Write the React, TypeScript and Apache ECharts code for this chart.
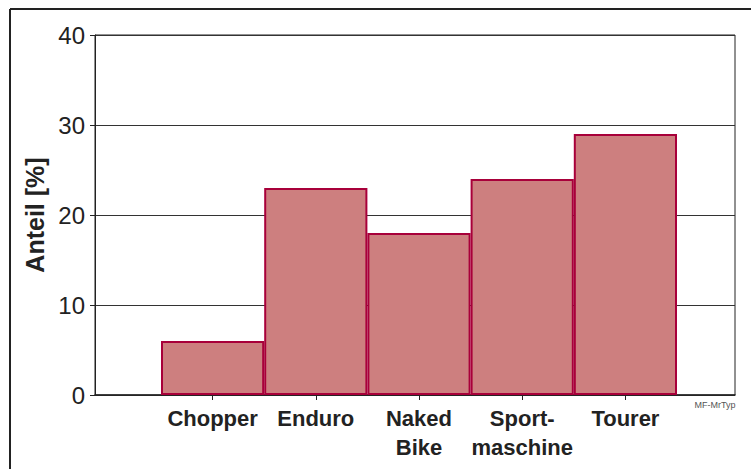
import React, { useEffect, useRef } from "react";
import * as echarts from "echarts";

const categories = ["Chopper", "Enduro", "Naked\nBike", "Sport-\nmaschine", "Tourer"];
const values = [6, 23, 18, 24, 29];
const yTicks = [0, 10, 20, 30, 40];

export default function App() {
  const ref = useRef<HTMLDivElement>(null);
  useEffect(() => {
    document.body.style.margin = "0";
    const chart = echarts.init(ref.current!, undefined, { renderer: "svg" });
    const font = "Liberation Sans, Arial, Helvetica, sans-serif";
    chart.setOption({
      animation: false,
      backgroundColor: "#ffffff",
      grid: [
        { left: 95, right: 16, top: 35, bottom: 74, show: true, borderColor: "#222", borderWidth: 1, backgroundColor: "transparent" },
        { left: 161, right: 74, top: 35, bottom: 74 },
      ],
      xAxis: [
        {
          gridIndex: 0,
          type: "category",
          data: [""],
          axisLine: { show: true, lineStyle: { color: "#222", width: 1.5 } },
          axisTick: { show: false },
          axisLabel: { show: false },
        },
        {
          gridIndex: 1,
          type: "category",
          data: categories,
          axisLine: { show: false },
          axisTick: { show: true, alignWithLabel: true, interval: 0, length: 5, lineStyle: { color: "#222" } },
          axisLabel: {
            interval: 0,
            hideOverlap: false,
            margin: 9,
            fontFamily: font,
            fontWeight: "bold",
            fontSize: 22,
            lineHeight: 29,
            color: "#222",
          },
        },
      ],
      yAxis: [
        {
          gridIndex: 0,
          type: "value",
          min: yTicks[0],
          max: yTicks[yTicks.length - 1],
          interval: 10,
          name: "Anteil [%]",
          nameLocation: "middle",
          nameGap: 46,
          nameTextStyle: { fontFamily: font, fontWeight: "bold", fontSize: 25, color: "#222" },
          axisLine: { show: true, lineStyle: { color: "#222", width: 1 } },
          axisTick: { show: true, length: 5, lineStyle: { color: "#222" } },
          axisLabel: { margin: 10, fontFamily: font, fontSize: 24, color: "#222" },
          splitLine: { show: true, lineStyle: { color: "#333", width: 1 } },
        },
        {
          gridIndex: 1,
          type: "value",
          min: 0,
          max: 40,
          show: false,
        },
      ],
      series: [
        {
          type: "bar",
          xAxisIndex: 1,
          yAxisIndex: 1,
          data: values,
          barCategoryGap: "0%",
          itemStyle: { color: "#CD7F7F", borderColor: "#A8003A", borderWidth: 2 },
        },
      ],
      graphic: [
        { type: "line", shape: { x1: 10, y1: 9, x2: 10, y2: 469 }, style: { stroke: "#222", lineWidth: 2 } },
        { type: "line", shape: { x1: 10, y1: 9, x2: 751, y2: 9 }, style: { stroke: "#222", lineWidth: 2 } },
        {
          type: "text",
          x: 715,
          y: 405,
          style: { text: "MF-MrTyp", fontFamily: font, fontSize: 9, fill: "#555", align: "center", verticalAlign: "middle" },
        },
      ],
    });
    return () => chart.dispose();
  }, []);
  return <div ref={ref} style={{ width: 751, height: 469 }} />;
}
